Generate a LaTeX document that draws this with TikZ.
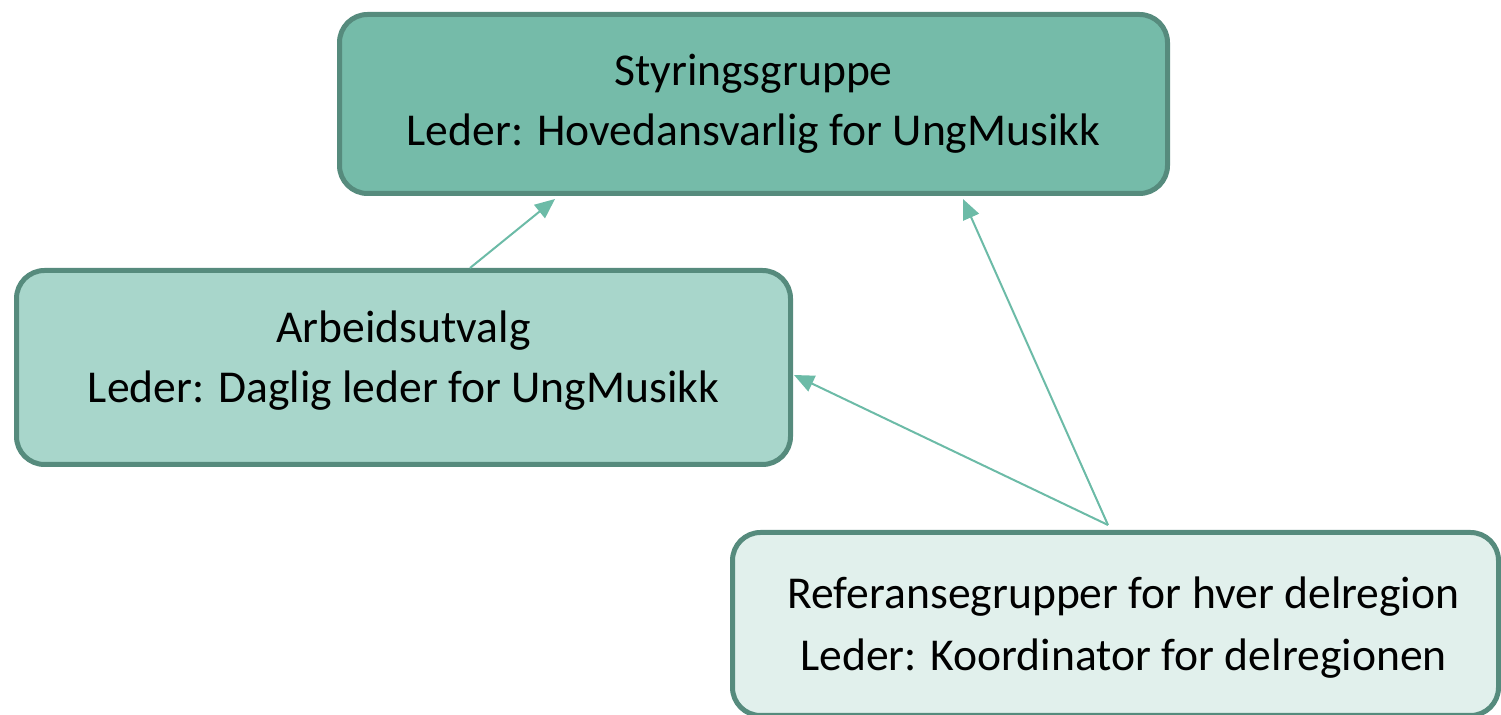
\documentclass[tikz,border=0pt]{standalone}
\usepackage{fontspec}
\setmainfont{Carlito}
\usetikzlibrary{calc,positioning,arrows.meta}

\definecolor{boxline}{HTML}{568B7D}
\definecolor{toplvl}{HTML}{75BBA9}
\definecolor{midlvl}{HTML}{A8D6CB}
\definecolor{lowlvl}{HTML}{E1F0EC}
\definecolor{linkcol}{HTML}{6CBBA7}

\begin{document}
\begin{tikzpicture}[x=0.5pt,y=-0.5pt,
  orgbox/.style={draw=boxline,line width=2.5pt,rounded corners=14pt,
    align=center,font=\fontsize{22.8}{30}\selectfont,inner sep=0pt},
  link/.style={draw=linkcol,line width=1pt,-{Triangle[length=10pt,width=8.5pt]}}]

\useasboundingbox (0,0) rectangle (1501,715);

% boksene
\node [orgbox,fill=toplvl,minimum width=414pt,minimum height=89.5pt]
  (styr) at (753.5,104) {Styringsgruppe\\Leder: Hovedansvarlig for UngMusikk};
\node [orgbox,fill=midlvl,minimum width=387pt,minimum height=97pt,text depth=11pt]
  (arb) at (403.5,367.5) {Arbeidsutvalg\\Leder: Daglig leder for UngMusikk};
\node [orgbox,fill=lowlvl,minimum width=383pt,minimum height=91.5pt,text depth=0pt,
  font=\fontsize{22.8}{31}\selectfont]
  (ref) at (1115.5,624) {\hspace*{8pt}Referansegrupper for hver delregion\\
    \hspace*{8pt}Leder: Koordinator for delregionen};

\coordinate (ref-top) at ([xshift=-3.75pt,yshift=2.5pt]ref.north);

% piler
\draw [link] ([xshift=33.25pt]arb.north) -- ([xshift=-99.25pt,yshift=-1.5pt]styr.south);
\draw [link] (ref-top) -- ([yshift=-3.75pt,xshift=0.5pt]arb.east);
\draw [link] (ref-top) -- ([xshift=104.75pt,yshift=-1.5pt]styr.south);

\end{tikzpicture}
\end{document}
